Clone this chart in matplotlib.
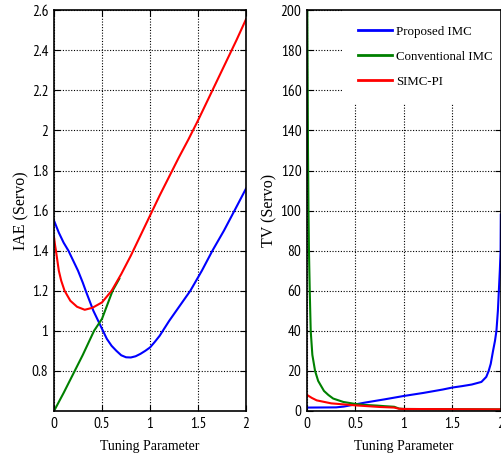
import numpy as np
import matplotlib
matplotlib.use("Agg")
import matplotlib.pyplot as plt

# ------------------------------------------
# data: IAE and TV (servo) vs tuning parameter
# ------------------------------------------
x_iae_prop = [0, 0.05, 0.1, 0.15, 0.2, 0.25, 0.3, 0.33, 0.37, 0.41, 0.46, 0.51, 0.55,
              0.6, 0.65, 0.7, 0.75, 0.8, 0.85, 0.9, 0.95, 1.0, 1.05, 1.1, 1.2, 1.31,
              1.42, 1.54, 1.65, 1.77, 1.88, 2.0]
iae_prop = [1.55, 1.49, 1.44, 1.4, 1.35, 1.3, 1.24, 1.2, 1.15, 1.1, 1.05, 1.0, 0.96,
            0.925, 0.9, 0.878, 0.868, 0.867, 0.873, 0.885, 0.9, 0.917, 0.945, 0.975, 1.05, 1.125,
            1.2, 1.3, 1.4, 1.5, 1.6, 1.71]

x_iae_conv = [0, 0.1, 0.2, 0.3, 0.417, 0.5, 0.61, 0.68]
iae_conv = [0.6, 0.69, 0.785, 0.88, 1.0, 1.06, 1.2, 1.26]

x_iae_simc = [0, 0.01, 0.02, 0.035, 0.05, 0.075, 0.11, 0.17, 0.24, 0.32, 0.4, 0.5, 0.6,
              0.7, 0.8, 0.9, 1.0, 1.1, 1.2, 1.3, 1.4, 1.5, 1.6, 1.7, 1.8, 1.9, 2.0]
iae_simc = [1.467, 1.43, 1.4, 1.35, 1.3, 1.25, 1.2, 1.15, 1.12, 1.105, 1.115, 1.142, 1.2,
            1.283, 1.375, 1.475, 1.575, 1.675, 1.77, 1.865, 1.955, 2.05, 2.15, 2.25, 2.35, 2.45, 2.555]

x_tv_prop = [0, 0.3, 0.38, 0.5, 0.6, 0.8, 1.0, 1.2, 1.4, 1.5, 1.6, 1.7, 1.8, 1.85,
             1.875, 1.896, 1.92, 1.94, 1.955, 1.97, 1.98, 1.99, 1.998, 2.0]
tv_prop = [1.7, 1.8, 2.2, 3.3, 4.2, 5.8, 7.5, 9.0, 10.7, 11.7, 12.4, 13.2, 14.5, 17,
           20, 23.5, 30, 35, 40, 50, 60, 70, 80, 98]

x_tv_conv = [0.003, 0.006, 0.01, 0.015, 0.02, 0.028, 0.038, 0.055, 0.083, 0.115, 0.175,
             0.22, 0.27, 0.375, 0.5, 0.6, 0.72, 0.8, 0.9, 0.95, 1.0, 1.5, 2.0]
tv_conv = [200, 170, 130, 100, 80, 60, 40, 28, 20, 15, 10,
           8, 6.2, 4.5, 3.5, 3.0, 2.7, 2.4, 2.1, 1.2, 1.0, 0.9, 0.8]

x_tv_simc = [0, 0.05, 0.1, 0.25, 0.5, 0.75, 0.9, 0.95, 1.0, 1.5, 2.0]
tv_simc = [8.0, 6.5, 5.3, 3.8, 2.8, 2.0, 1.7, 1.1, 1.0, 0.9, 0.8]

x_ticks = [0, 0.5, 1, 1.5, 2]
x_tick_labels = ["0", "0.5", "1", "1.5", "2"]
iae_ticks = [0.8, 1.0, 1.2, 1.4, 1.6, 1.8, 2.0, 2.2, 2.4, 2.6]
iae_tick_labels = ["0.8", "1", "1.2", "1.4", "1.6", "1.8", "2", "2.2", "2.4", "2.6"]
tv_ticks = [0, 20, 40, 60, 80, 100, 120, 140, 160, 180, 200]

series_names = ["Proposed IMC", "Conventional IMC", "SIMC-PI"]
colors = ["#0000ff", "#008000", "#ff0000"]

tick_font = ["PT Sans Narrow", "Archivo Narrow", "Roboto Condensed", "Liberation Sans"]
label_font = ["Liberation Serif", "DejaVu Serif"]


def style_axes(ax):
    ax.set_xlim(0, 2)
    ax.set_xticks(x_ticks)
    ax.set_xticklabels(x_tick_labels)
    ax.grid(True, color="black", linestyle=(0, (1, 1.5)), linewidth=0.8)
    ax.tick_params(direction="in", top=True, right=True, length=4,
                   width=0.8, labelsize=11, pad=4)
    for lab in ax.get_xticklabels() + ax.get_yticklabels():
        lab.set_family(tick_font)
    for sp in ax.spines.values():
        sp.set_linewidth(1.2)
    ax.set_xlabel("Tuning Parameter", family=label_font, fontsize=10, labelpad=7)


fig = plt.figure(figsize=(5.02, 4.57), dpi=100)

# ------------------------------------------
# left: IAE
# ------------------------------------------
ax1 = fig.add_axes([0.1076, 0.1007, 0.3825, 0.877])
ax1.plot(x_iae_prop, iae_prop, color=colors[0], lw=1.5)
ax1.plot(x_iae_conv, iae_conv, color=colors[1], lw=1.5)
ax1.plot(x_iae_simc, iae_simc, color=colors[2], lw=1.5)
ax1.set_ylim(0.6, 2.6)
ax1.set_yticks(iae_ticks)
ax1.set_yticklabels(iae_tick_labels)
style_axes(ax1)
ax1.set_ylabel("IAE (Servo)", family=label_font, fontsize=11.5, labelpad=2)

# ------------------------------------------
# right: TV
# ------------------------------------------
ax2 = fig.add_axes([0.6116, 0.1007, 0.386, 0.877])
ax2.plot(x_tv_prop, tv_prop, color=colors[0], lw=1.5, label=series_names[0])
ax2.plot(x_tv_conv, tv_conv, color=colors[1], lw=1.5, label=series_names[1])
ax2.plot(x_tv_simc, tv_simc, color=colors[2], lw=1.5, label=series_names[2])
ax2.set_ylim(0, 200)
ax2.set_yticks(tv_ticks)
style_axes(ax2)
ax2.set_ylabel("TV (Servo)", family=label_font, fontsize=11.5, labelpad=2)

leg = ax2.legend(loc="upper right", bbox_to_anchor=(1.036, 1.0),
                 prop={"family": label_font, "size": 9.3},
                 frameon=True, fancybox=False, framealpha=1, borderaxespad=0,
                 handlelength=2.6, handletextpad=0.3, labelspacing=1.0,
                 borderpad=1.2)
leg.get_frame().set_edgecolor("white")
leg.get_frame().set_facecolor("white")
leg.set_zorder(2.4)  # keep the axes frame drawn on top of the legend box
for ln in leg.get_lines():
    ln.set_linewidth(2)

plt.savefig("out.png", dpi=100)
plt.close()
